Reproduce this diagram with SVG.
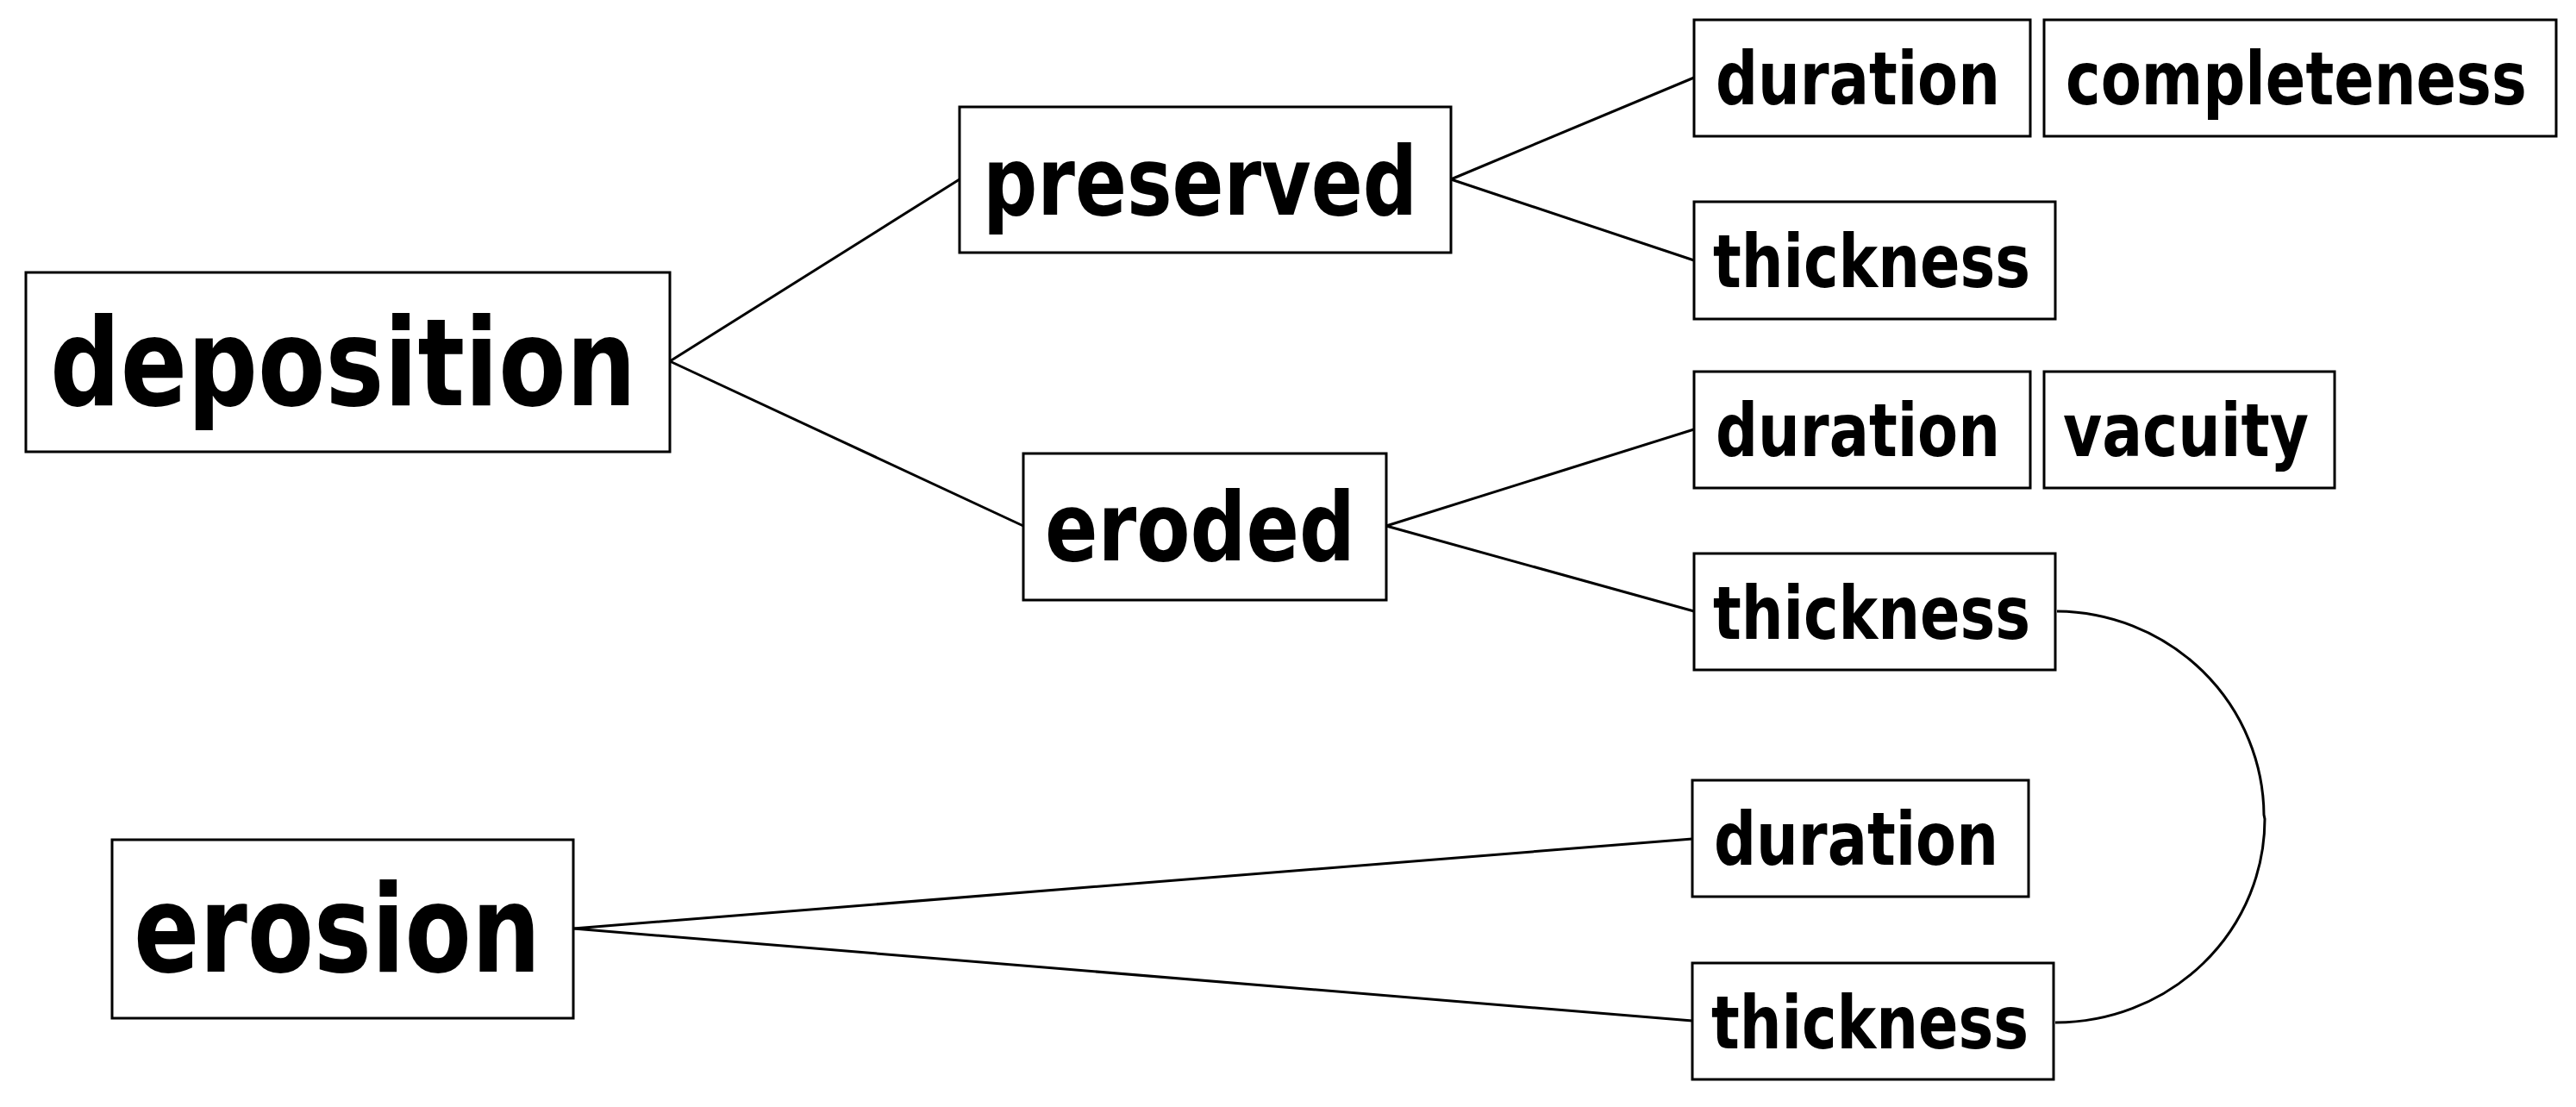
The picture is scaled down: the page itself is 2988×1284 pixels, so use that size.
<svg xmlns="http://www.w3.org/2000/svg" width="2988" height="1284" viewBox="0 0 2988 1284">
<style>
.box{fill:#fff;stroke:#000;stroke-width:3}
.t{font-family:"DejaVu Sans","Liberation Sans",sans-serif;font-weight:bold;font-stretch:condensed;fill:#000}
.l1{font-size:140px}
.l2{font-size:111px}
.l3{font-size:86px}
.c{fill:none;stroke:#000;stroke-width:3}
</style>
<rect width="2988" height="1284" fill="#fff"/>
<g id="connectors">
<line class="c" x1="777" y1="419" x2="1113" y2="208"/>
<line class="c" x1="777" y1="419" x2="1187" y2="610"/>
<line class="c" x1="1683" y1="208" x2="1965" y2="90"/>
<line class="c" x1="1683" y1="208" x2="1965" y2="302"/>
<line class="c" x1="1608" y1="610" x2="1965" y2="498"/>
<line class="c" x1="1608" y1="610" x2="1965" y2="709"/>
<line class="c" x1="665" y1="1077" x2="1963" y2="973"/>
<line class="c" x1="665" y1="1077" x2="1963" y2="1184"/>
<path class="c" d="M2386,709 A242,238 0 0 1 2626,945 L2627,950 A242,236 0 0 1 2384,1186"/>
</g>
<g id="deposition"><rect class="box" x="30" y="316" width="747" height="208"/><text class="t l1" x="58" y="470" textLength="680" lengthAdjust="spacingAndGlyphs">deposition</text></g>
<g id="preserved"><rect class="box" x="1113" y="124" width="570" height="169"/><text class="t l2" x="1140" y="249" textLength="504" lengthAdjust="spacingAndGlyphs">preserved</text></g>
<g id="eroded"><rect class="box" x="1187" y="526" width="421" height="170"/><text class="t l2" x="1212" y="650" textLength="360" lengthAdjust="spacingAndGlyphs">eroded</text></g>
<g id="erosion"><rect class="box" x="130" y="974" width="535" height="207"/><text class="t l1" x="155" y="1127" textLength="472" lengthAdjust="spacingAndGlyphs">erosion</text></g>
<g id="duration-preserved"><rect class="box" x="1965" y="23" width="390" height="135"/><text class="t l3" x="1990" y="121" textLength="330" lengthAdjust="spacingAndGlyphs">duration</text></g>
<g id="completeness"><rect class="box" x="2371" y="23" width="594" height="135"/><text class="t l3" transform="translate(2396,121) scale(0.7,1)" x="0" y="0" textLength="764" lengthAdjust="spacingAndGlyphs">completeness</text></g>
<g id="thickness-preserved"><rect class="box" x="1965" y="234" width="419" height="136"/><text class="t l3" x="1987" y="333" textLength="368" lengthAdjust="spacingAndGlyphs">thickness</text></g>
<g id="duration-eroded"><rect class="box" x="1965" y="431" width="390" height="135"/><text class="t l3" x="1990" y="529" textLength="330" lengthAdjust="spacingAndGlyphs">duration</text></g>
<g id="vacuity"><rect class="box" x="2371" y="431" width="337" height="135"/><text class="t l3" x="2393" y="529" textLength="285" lengthAdjust="spacingAndGlyphs">vacuity</text></g>
<g id="thickness-eroded"><rect class="box" x="1965" y="642" width="419" height="135"/><text class="t l3" x="1987" y="741" textLength="368" lengthAdjust="spacingAndGlyphs">thickness</text></g>
<g id="duration-erosion"><rect class="box" x="1963" y="905" width="390" height="135"/><text class="t l3" x="1988" y="1003" textLength="330" lengthAdjust="spacingAndGlyphs">duration</text></g>
<g id="thickness-erosion"><rect class="box" x="1963" y="1117" width="419" height="135"/><text class="t l3" x="1985" y="1216" textLength="368" lengthAdjust="spacingAndGlyphs">thickness</text></g>
</svg>
